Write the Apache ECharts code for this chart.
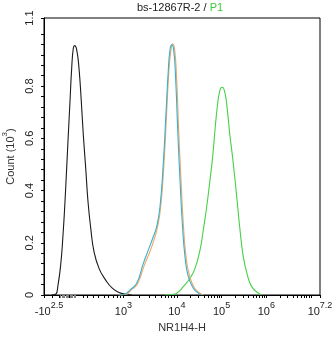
<!DOCTYPE html>
<html><head><meta charset="utf-8">
<script src="https://cdn.jsdelivr.net/npm/echarts@6/dist/echarts.min.js"></script>
<style>html,body{margin:0;padding:0;background:#fff}#c{width:334px;height:337px}</style>
</head><body><div id="c"></div>
<script>
// ---- text ----
const titleMain = 'bs-12867R-2 / ';
const titleGate = 'P1';
const xName = 'NR1H4-H';
const yNameBase = 'Count (10';
const yNameExp = '3';
// ---- x axis (display scale, decades) ----
const xMin = 1.03, xMax = 7.2;
const xLabelPos = [1.03, 2.807, 4, 5, 6, 7.2];
const xLabelBase = ['-10', '10', '10', '10', '10', '10'];
const xLabelExp = ['2.5', '3', '4', '5', '6', '7.2'];
const xLowTicks = [1.224, 1.372, 1.909, 2.007, 2.132, 2.244, 2.371, 2.467, 2.579, 2.669, 2.729];
const xZeroTicks = [1.53, 1.55, 1.57, 1.59, 1.61];
const xBandTicks = [1.40, 1.43, 1.46, 1.49, 1.52, 1.55, 1.58, 1.61, 1.64, 1.67, 1.70, 1.73];
// ---- y axis ----
const yMax = 1.061;
const yLabelVals = [0, 0.2, 0.4, 0.6, 0.8, 1.061];
const yLabelText = ['0', '0.2', '0.4', '0.6', '0.8', '1.1'];
// ---- series ----
const blackX = [1.20, 1.292, 1.343, 1.403, 1.455, 1.499, 1.537, 1.573, 1.611, 1.649, 1.685, 1.716, 1.761, 1.812, 1.864, 1.909, 1.962, 2.014, 2.074, 2.148, 2.260, 2.409, 2.557, 2.707, 2.856, 2.997];
const blackY = [0, 0.003, 0.038, 0.115, 0.230, 0.357, 0.487, 0.613, 0.741, 0.869, 0.945, 0.955, 0.939, 0.869, 0.741, 0.613, 0.487, 0.357, 0.257, 0.166, 0.102, 0.057, 0.026, 0.010, 0.003, 0];
const orangeX = [2.70, 2.830, 2.908, 2.975, 3.120, 3.266, 3.377, 3.489, 3.563, 3.639, 3.713, 3.773, 3.824, 3.869, 3.907, 3.952, 3.997, 4.041, 4.093, 4.144, 4.204, 4.283, 4.394, 4.506, 4.584];
const orangeY = [0, 0.002, 0.006, 0.019, 0.042, 0.111, 0.157, 0.211, 0.257, 0.337, 0.506, 0.701, 0.862, 0.939, 0.962, 0.939, 0.824, 0.632, 0.441, 0.276, 0.149, 0.073, 0.027, 0.008, 0];
const blueX = [2.70, 2.818, 2.885, 2.953, 3.102, 3.250, 3.362, 3.473, 3.549, 3.623, 3.697, 3.757, 3.809, 3.847, 3.885, 3.929, 3.974, 4.019, 4.070, 4.122, 4.182, 4.256, 4.368, 4.479, 4.555];
const blueY = [0, 0.002, 0.008, 0.019, 0.045, 0.121, 0.172, 0.223, 0.262, 0.338, 0.505, 0.696, 0.862, 0.939, 0.958, 0.939, 0.824, 0.632, 0.441, 0.275, 0.147, 0.070, 0.026, 0.007, 0];
const greenX = [3.735, 3.891, 3.997, 4.144, 4.294, 4.406, 4.517, 4.591, 4.667, 4.741, 4.801, 4.853, 4.904, 4.964, 5.016, 5.076, 5.128, 5.188, 5.226, 5.277, 5.338, 5.412, 5.485, 5.575, 5.673, 5.821, 5.897];
const greenY = [0, 0.002, 0.007, 0.032, 0.064, 0.102, 0.172, 0.249, 0.338, 0.441, 0.530, 0.632, 0.721, 0.785, 0.796, 0.773, 0.709, 0.607, 0.556, 0.479, 0.377, 0.249, 0.147, 0.077, 0.032, 0.007, 0];

const FONT = 'Liberation Sans, Arial, sans-serif';
const zip = (a, b) => a.map((v, i) => [v, b[i]]);

// tick positions
const xTicks = [];
xLabelPos.forEach(v => xTicks.push(v));
xLowTicks.forEach(v => xTicks.push(v));
xZeroTicks.forEach(v => xTicks.push(v));
for (let m = 2; m <= 9; m++) xTicks.push(2.807 + (4 - 2.807) * Math.log10(m));
[4, 5, 6].forEach(d => { for (let m = 2; m <= 9; m++) xTicks.push(d + Math.log10(m)); });
xTicks.push(7);
const yTicks = [];
for (let i = 0; i <= 25; i++) yTicks.push(Math.round(i * 4) / 100);
yTicks.push(yMax);

function nearestIdx(arr, v) {
  let bi = 0, bd = Infinity;
  arr.forEach((a, i) => { const d = Math.abs(a - v); if (d < bd) { bd = d; bi = i; } });
  return bi;
}

const lineSeries = (name, xs, ys, color, z) => ({
  type: 'line', name: name, data: zip(xs, ys), showSymbol: false, smooth: 0.5,
  lineStyle: {color: color, width: 1.1}, z: z
});

const chart = echarts.init(document.getElementById('c'), null, {renderer: 'canvas'});
chart.setOption({
  animation: false,
  backgroundColor: '#fff',
  title: {
    text: '{a|' + titleMain + '}{g|' + titleGate + '}',
    left: 180, top: 2, padding: 0, textAlign: 'center',
    textStyle: {
      fontFamily: FONT, fontSize: 11, fontWeight: 'normal',
      rich: {
        a: {fontFamily: FONT, fontSize: 11, color: '#222'},
        g: {fontFamily: FONT, fontSize: 11, color: '#3CC93C'}
      }
    }
  },
  grid: {left: 44, right: 14, top: 18, bottom: 42, show: true, borderColor: '#000', borderWidth: 1,
         containLabel: false, outerBoundsMode: 'none'},
  xAxis: [{
    type: 'value', min: xMin, max: xMax, position: 'bottom',
    name: xName, nameLocation: 'middle', nameGap: 27,
    nameTextStyle: {fontFamily: FONT, fontSize: 11, color: '#333'},
    axisLine: {show: true, lineStyle: {color: '#000', width: 1}},
    axisTick: {show: true, length: 3, customValues: xTicks, lineStyle: {color: '#000', width: 1}},
    splitLine: {show: false},
    axisLabel: {
      show: true, margin: 6, customValues: xLabelPos,
      fontFamily: FONT, color: '#222',
      formatter: function (v) {
        const i = nearestIdx(xLabelPos, v);
        const pad = i === 0 ? '{p|}' : '';
        return pad + '{b|' + xLabelBase[i] + '}{s|' + xLabelExp[i] + '}';
      },
      rich: {
        b: {fontFamily: FONT, fontSize: 11, color: '#222', lineHeight: 16, verticalAlign: 'bottom'},
        s: {fontFamily: FONT, fontSize: 9, color: '#222', lineHeight: 9, verticalAlign: 'top'},
        p: {width: 10}
      }
    }
  }, {
    type: 'value', min: xMin, max: xMax, position: 'bottom',
    axisLine: {show: false},
    axisTick: {show: true, length: 3, customValues: xBandTicks, lineStyle: {color: '#808080', width: 1}},
    axisLabel: {show: false},
    splitLine: {show: false}
  }],
  yAxis: {
    type: 'value', min: 0, max: yMax,
    name: '{n|' + yNameBase + '}{s|' + yNameExp + '}{n|)}',
    nameLocation: 'middle', nameGap: 23, nameRotate: 90,
    nameTextStyle: {
      fontFamily: FONT, fontSize: 11, color: '#333',
      rich: {
        n: {fontFamily: FONT, fontSize: 11, color: '#333', lineHeight: 15, verticalAlign: 'bottom'},
        s: {fontFamily: FONT, fontSize: 8, color: '#333', lineHeight: 8, verticalAlign: 'top'}
      }
    },
    axisLine: {show: true, lineStyle: {color: '#000', width: 1}},
    axisTick: {show: true, length: 3, customValues: yTicks, lineStyle: {color: '#000', width: 1}},
    splitLine: {show: false},
    axisLabel: {
      show: true, rotate: 90, margin: 9, customValues: yLabelVals,
      fontFamily: FONT, fontSize: 11, color: '#222',
      formatter: function (v) { return yLabelText[nearestIdx(yLabelVals, v)]; }
    }
  },
  series: [
    lineSeries('control', blackX, blackY, '#1a1a1a', 3),
    lineSeries('P1', greenX, greenY, '#45D045', 3),
    lineSeries('orange', orangeX, orangeY, '#F0A868', 3),
    lineSeries('blue', blueX, blueY, '#3AAFCB', 4)
  ]
});
</script>
</body></html>
